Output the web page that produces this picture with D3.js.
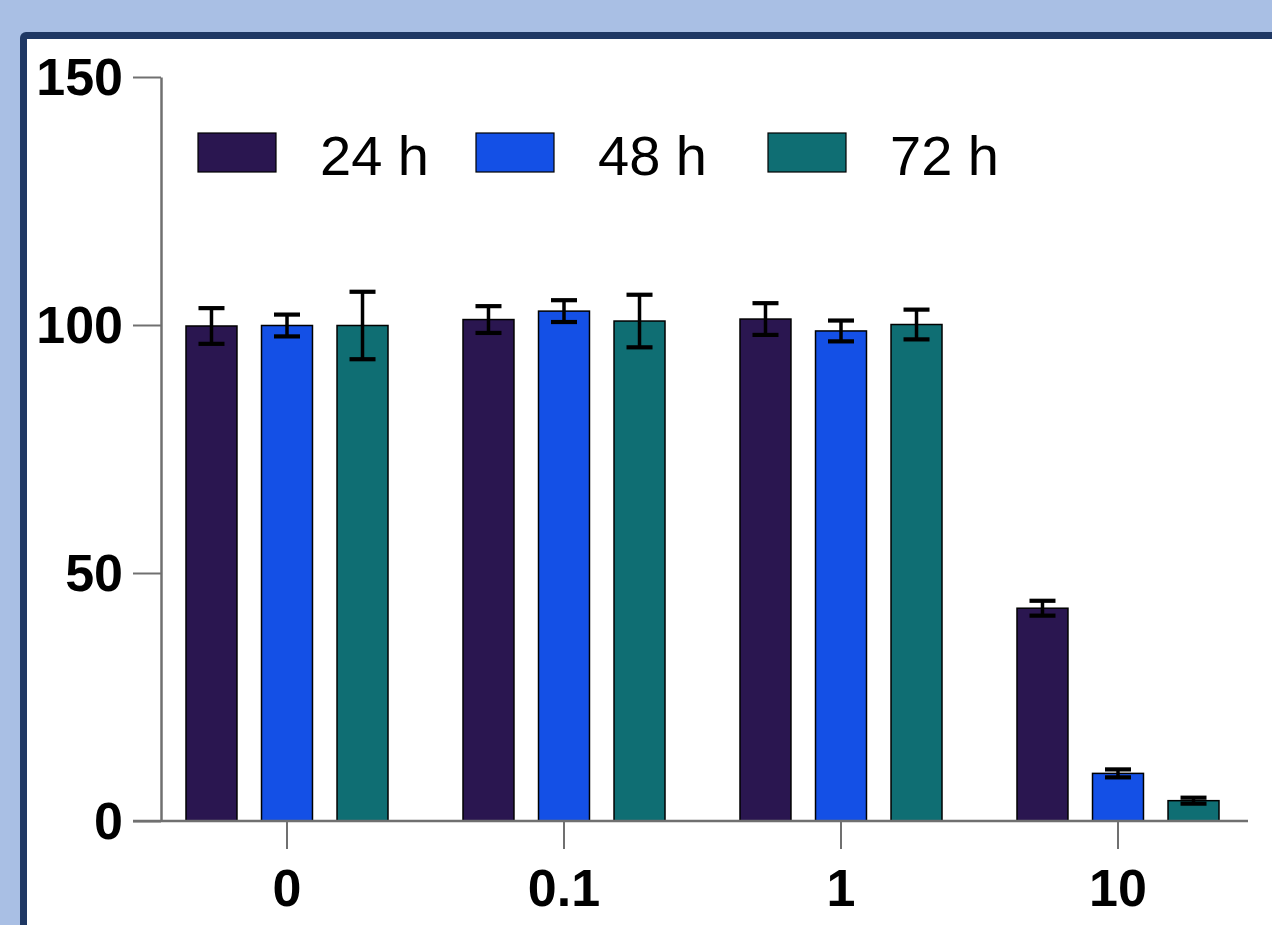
<!DOCTYPE html>
<html lang="en">
<head>
    <meta charset="UTF-8">
    <title>Viability_Bars</title>
    <style>
        body { margin: 0; background: #a9bfe4; }
        svg { display: block; }
        .tick-label { font-family: "Liberation Sans", Arial, sans-serif; font-weight: bold; font-size: 52px; fill: #000; }
        .legend-label { font-family: "Liberation Sans", Arial, sans-serif; font-size: 56px; fill: #000; }
    </style>
</head>
<body>
    <svg id="chart" width="1272" height="925"></svg>

    <script src="https://d3js.org/d3.v7.min.js"></script>
    <script>
        // dados
        const doses = ["0", "0.1", "1", "10"];
        const series = ["24 h", "48 h", "72 h"];
        const colors = ["#2a1650", "#1450e6", "#0f6e73"];
        const mean24 = [99.8, 101.1, 101.2, 42.9];
        const mean48 = [99.9, 102.8, 98.8, 9.6];
        const mean72 = [99.9, 100.8, 100.1, 4.1];
        const err24 = [3.6, 2.7, 3.2, 1.5];
        const err48 = [2.2, 2.2, 2.1, 0.8];
        const err72 = [6.8, 5.3, 3.0, 0.6];
        const yTicks = [0, 50, 100, 150];

        const means = [mean24, mean48, mean72];
        const errs = [err24, err48, err72];
        const data = [];
        doses.forEach((dose, i) => {
            series.forEach((s, j) => {
                data.push({ dose: dose, serie: s, value: means[j][i], err: errs[j][i] });
            });
        });

        const margin = { top: 77, left: 161, bottom: 821 };

        const svg = d3.select("#chart");

        // moldura
        svg.append("rect")
            .attr("x", 20).attr("y", 32)
            .attr("width", 1300).attr("height", 1000)
            .attr("rx", 6)
            .attr("fill", "#1f3864");
        svg.append("rect")
            .attr("x", 27).attr("y", 39)
            .attr("width", 1300).attr("height", 1000)
            .attr("fill", "#ffffff");

        const escala_x = d3.scaleBand()
            .domain(doses)
            .range([148.5, 1256.5])
            .padding(0);

        const escala_sub = d3.scaleBand()
            .domain(series)
            .range([-101, 101])
            .paddingInner(0.325)
            .paddingOuter(0);

        const escala_y = d3.scaleLinear()
            .domain([0, 150])
            .range([margin.bottom, margin.top]);

        const color = d3.scaleOrdinal().domain(series).range(colors);

        // barras
        svg.append("g").selectAll("rect")
            .data(data)
            .enter()
            .append("rect")
            .attr("x", d => escala_x(d.dose) + escala_x.bandwidth() / 2 + escala_sub(d.serie))
            .attr("y", d => escala_y(d.value))
            .attr("width", escala_sub.bandwidth())
            .attr("height", d => escala_y(0) - escala_y(d.value))
            .attr("fill", d => color(d.serie))
            .attr("stroke", "#000")
            .attr("stroke-width", 1.5);

        // barras de erro
        const capW = 26;
        const eb = svg.append("g")
            .attr("stroke", "#000")
            .attr("stroke-width", 4.2);
        data.forEach(d => {
            const cx = escala_x(d.dose) + escala_x.bandwidth() / 2 + escala_sub(d.serie) + escala_sub.bandwidth() / 2;
            const yTop = escala_y(d.value + d.err);
            const yBot = escala_y(d.value - d.err);
            eb.append("line").attr("x1", cx).attr("x2", cx).attr("y1", yTop).attr("y2", yBot).attr("stroke-width", 3.5);
            eb.append("line").attr("x1", cx - capW / 2).attr("x2", cx + capW / 2).attr("y1", yTop).attr("y2", yTop);
            eb.append("line").attr("x1", cx - capW / 2).attr("x2", cx + capW / 2).attr("y1", yBot).attr("y2", yBot);
        });

        // eixo y
        const eixoY = svg.append("g")
            .attr("transform", `translate(${margin.left},0)`)
            .call(d3.axisLeft(escala_y).tickValues(yTicks).tickSize(28).tickSizeOuter(0).tickPadding(10));
        eixoY.select(".domain").attr("stroke", "#707070").attr("stroke-width", 2.5);
        eixoY.selectAll(".tick line").attr("stroke", "#707070").attr("stroke-width", 2);
        eixoY.selectAll(".tick text")
            .attr("class", "tick-label")
            .attr("dy", "0.34em");
        eixoY.attr("font-size", null).attr("font-family", null);

        // eixo x
        const eixoX = svg.append("g")
            .attr("transform", `translate(0,${margin.bottom})`)
            .call(d3.axisBottom(escala_x).tickSize(28).tickPadding(8));
        eixoX.select(".domain").remove();
        eixoX.selectAll(".tick line").attr("stroke", "#707070").attr("stroke-width", 2);
        eixoX.selectAll(".tick text")
            .attr("class", "tick-label")
            .attr("dy", "0.95em");
        eixoX.attr("font-size", null).attr("font-family", null);

        svg.append("line")
            .attr("x1", margin.left - 28).attr("x2", 1248)
            .attr("y1", margin.bottom).attr("y2", margin.bottom)
            .attr("stroke", "#707070")
            .attr("stroke-width", 2.5);

        // legenda
        const legendX = d3.scaleOrdinal().domain(series).range([198, 476, 768]);
        const legend = svg.append("g").selectAll("g")
            .data(series)
            .enter()
            .append("g")
            .attr("transform", d => `translate(${legendX(d)},133)`);
        legend.append("rect")
            .attr("width", 78).attr("height", 39)
            .attr("fill", d => color(d))
            .attr("stroke", "#000")
            .attr("stroke-width", 1.2);
        legend.append("text")
            .attr("class", "legend-label")
            .attr("x", 122)
            .attr("y", 42)
            .text(d => d);
    </script>
</body>
</html>
